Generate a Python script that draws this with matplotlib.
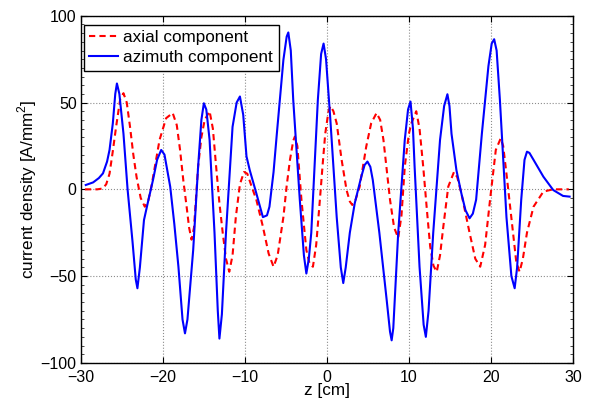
import matplotlib
matplotlib.use('Agg')
import matplotlib.pyplot as plt
from matplotlib.ticker import MultipleLocator

# values
z_azimuth = [-29.4, -28.5, -27.8, -27.3, -26.8, -26.5, -26.1, -25.8, -25.6, -25.3,
             -24.8, -24.3, -23.7, -23.3, -23.1, -22.8, -22.3, -21.8, -21.2, -20.7,
             -20.2, -19.8, -19.1, -18.6, -18.1, -17.6, -17.3, -17.0, -16.3, -15.7,
             -15.3, -15.0, -14.7, -14.3, -13.7, -13.3, -13.1, -12.8, -12.3, -11.5,
             -11.0, -10.6, -10.2, -9.8, -9.4, -8.6, -7.8, -7.3, -7.0, -6.5,
             -6.1, -5.3, -4.9, -4.7, -4.4, -4.1, -3.3, -2.8, -2.5, -2.2,
             -1.9, -1.1, -0.7, -0.4, -0.1, 0.4, 1.2, 1.7, 2.0, 2.3,
             2.8, 3.4, 4.2, 4.6, 4.95, 5.3, 5.6, 6.4, 7.3, 7.7,
             7.9, 8.1, 8.7, 9.5, 9.9, 10.2, 10.5, 10.7, 11.3, 11.8,
             12.07, 12.4, 12.97, 13.8, 14.3, 14.7, 14.95, 15.2, 15.8, 16.4,
             16.9, 17.4, 17.8, 18.2, 18.9, 19.7, 20.1, 20.4, 20.7, 21.1,
             21.9, 22.5, 22.9, 23.2, 23.7, 24.1, 24.4, 24.7, 25.2, 26.4,
             27.6, 28.8, 29.6]
j_azimuth = [2.5, 4, 6.5, 9.2, 16, 22.7, 38, 55, 61, 55,
             32, 0, -30, -52, -57, -45, -17.7, -7, 5.4, 17,
             22.7, 20, 1.5, -20, -44.6, -75, -83, -75, -35, 13,
             40, 49.6, 46, 28.5, -25, -70, -86, -72, -25, 36,
             50, 53.5, 43, 19, 11, -2.3, -16, -15, -10, 10,
             32, 74.6, 88, 90.4, 80, 51.5, -6, -38, -48.5, -40,
             -25, 51.5, 78, 84, 75, 42, -16, -45, -54, -45,
             -25, -8, 7.3, 14, 16, 13, 5.4, -25, -64, -82,
             -87, -80, -25, 28.5, 46, 50.6, 35, 13, -44.6, -78,
             -85, -70, -25, 28.5, 48, 54.8, 48, 32, 11, -2.3,
             -12, -16.7, -14, -6, 32, 71, 84, 86.5, 80, 51.5,
             -16, -50, -57, -45, -6, 17, 21.7, 21, 17, 7.3,
             -0.4, -3.8, -4.2]

z_axial = [-29.5, -28.0, -27.3, -26.9, -26.5, -26.1, -25.7, -25.2, -24.8, -24.4,
           -24.0, -23.6, -23.2, -22.7, -22.2, -21.8, -21.4, -20.9, -20.4, -19.6,
           -18.8, -18.3, -17.9, -17.5, -17.1, -16.8, -16.5, -16.2, -15.7, -15.3,
           -14.9, -14.3, -13.9, -13.5, -13.1, -12.7, -12.3, -11.9, -11.5, -11.1,
           -10.6, -10.1, -9.7, -9.2, -8.6, -7.8, -7.1, -6.5, -6.0, -5.3,
           -4.9, -4.5, -4.1, -3.9, -3.6, -3.1, -2.5, -2.1, -1.7, -1.3,
           -0.85, -0.5, -0.2, 0.2, 0.45, 0.8, 1.2, 1.8, 2.4, 2.8,
           3.1, 3.5, 4.0, 4.8, 5.4, 6.06, 6.5, 6.9, 7.7, 8.2,
           8.7, 9.1, 9.5, 10.0, 10.3, 10.9, 11.3, 11.75, 12.2, 12.6,
           13.0, 13.4, 13.8, 14.2, 14.8, 15.5, 15.9, 16.4, 17.4, 18.1,
           18.7, 19.3, 19.9, 20.6, 21.2, 21.5, 21.9, 22.7, 23.1, 23.5,
           23.9, 24.4, 25.2, 26.4, 27.6, 29.5]
j_axial = [0, 0, 0.5, 3, 9, 22, 36, 52, 55.4, 50,
           36, 20, 7, -5, -10, -7, 1.5, 15, 28.5, 41,
           44, 37, 22.7, 5, -10, -22, -29, -22, 13, 30,
           40, 45, 35, 13, -8, -25, -40, -47.5, -38, -16,
           3, 10, 9, 2, -6, -21.5, -37, -44.6, -38, -16,
           2, 17, 28, 30.4, 25, -6, -35, -43, -44.6, -32,
           -6, 15, 32, 45, 48, 45, 38, 17, -0.4, -7,
           -9, -6, 1.5, 24.6, 38, 44, 40, 28.5, -6, -22,
           -28, -15, 13, 32, 38, 45, 35, 13, -12, -33,
           -44, -47.5, -38, -21.5, 1.5, 10, 7, -2.3, -25, -40,
           -44.6, -32, -6, 22.7, 29.4, 25, 9, -25, -42, -47.5,
           -40, -25, -10, -1.3, 0, 0]

plt.rcParams['font.family'] = ['Liberation Sans', 'DejaVu Sans']
plt.rcParams['mathtext.fontset'] = 'custom'
plt.rcParams['mathtext.rm'] = 'Liberation Sans'

fig = plt.figure(figsize=(5.9, 4.05), dpi=100)
ax = fig.add_axes([0.137, 0.104, 0.834, 0.857])

ax.plot(z_axial, j_axial, color='#ff0000', lw=1.5, linestyle=(0, (3, 2)),
        label='axial component')
ax.plot(z_azimuth, j_azimuth, color='#0000ff', lw=1.5, label='azimuth component')

ax.set_xlim(-30, 30)
ax.set_ylim(-100, 100)
ax.xaxis.set_major_locator(MultipleLocator(10))
ax.yaxis.set_major_locator(MultipleLocator(50))
ax.yaxis.set_minor_locator(MultipleLocator(5))
ax.tick_params(which='both', direction='in', top=True, right=True, labelsize=11.5)
ax.tick_params(which='major', length=4, pad=3)
ax.tick_params(axis='x', which='major', pad=5)
ax.tick_params(which='minor', length=2, width=0.5)
ax.grid(True, which='major', linestyle=':', color='0.55', lw=0.8)
for s in ax.spines.values():
    s.set_linewidth(1.0)

ax.set_xlabel('z [cm]', fontsize=12.3, labelpad=-1)
ax.set_ylabel(r'current density [A/mm$^2$]', fontsize=12.3, labelpad=1)

leg = ax.legend(loc='upper left', bbox_to_anchor=(0.006, 0.974), borderaxespad=0,
                fontsize=12.3, fancybox=False, framealpha=1, edgecolor='black',
                handlelength=1.7, handletextpad=0.3, labelspacing=0.3,
                borderpad=0.32)
leg.get_frame().set_linewidth(1.0)

fig.savefig('out.png', dpi=100)
